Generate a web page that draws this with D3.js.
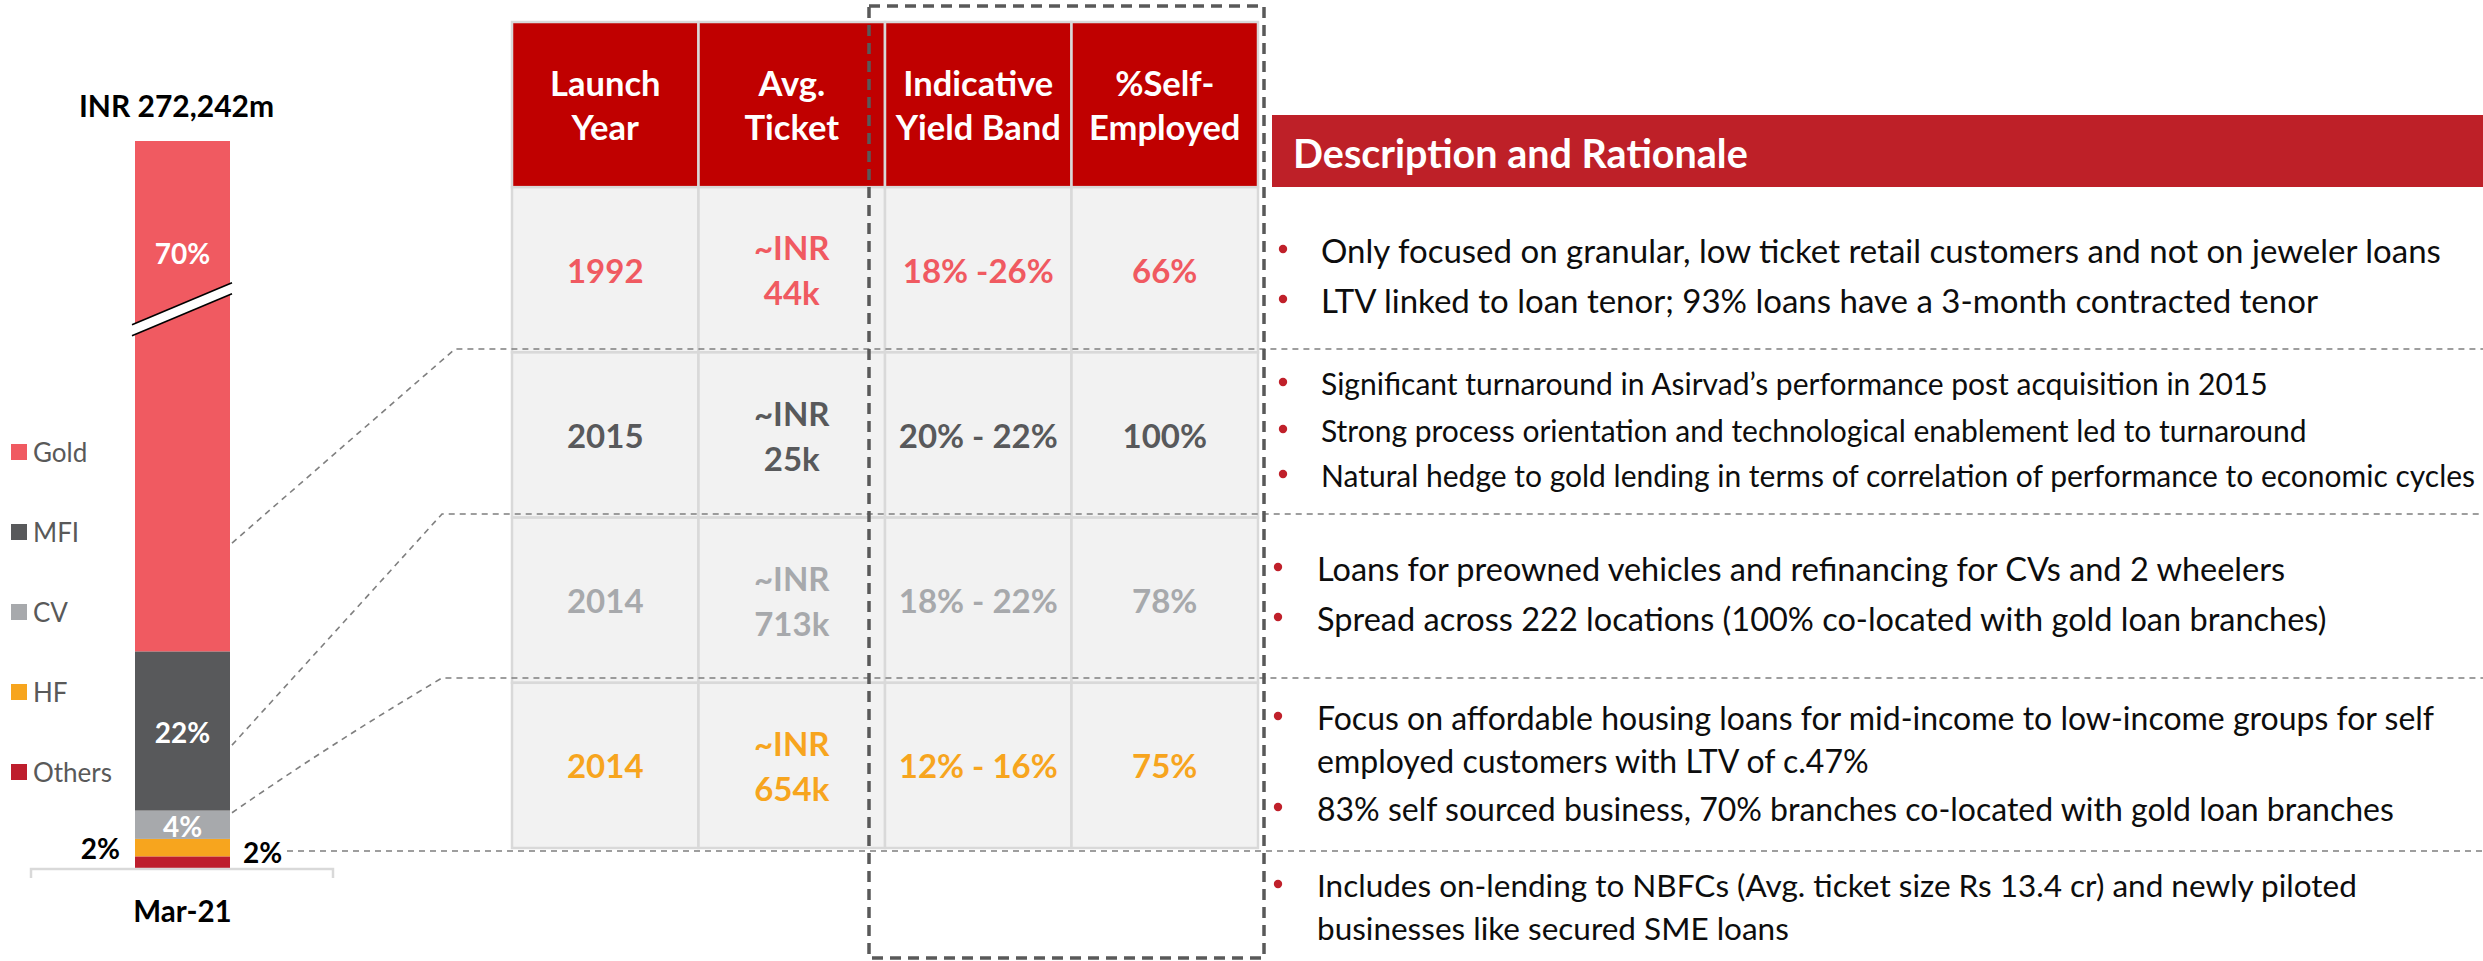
<!DOCTYPE html>
<html><head><meta charset="utf-8">
<script src="https://cdn.jsdelivr.net/npm/d3@7"></script>
<style>
html,body{margin:0;padding:0;background:#fff;}
svg{display:block;font-family:Lato, "Open Sans", sans-serif;}
</style></head>
<body>
<svg id="chart" width="2483" height="961"></svg>
<script>
// ---------- data ----------
const categories = ["Mar-21"];
const totalLabel = "INR 272,242m";
const segments = ["Gold", "MFI", "CV", "HF", "Others"];
const shares = [70.2, 21.9, 3.9, 2.4, 1.6];           // % of AUM
const segmentColors = ["#F05A61", "#58595B", "#A7A9AC", "#F7A51E", "#BE1E2D"];

const tableHeaders = [["Launch", "Year"], ["Avg.", "Ticket"], ["Indicative", "Yield Band"], ["%Self-", "Employed"]];
const launchYears = ["1992", "2015", "2014", "2014"];
const avgTickets = [["~INR", "44k"], ["~INR", "25k"], ["~INR", "713k"], ["~INR", "654k"]];
const yieldBands = ["18% -26%", "20% - 22%", "18% - 22%", "12% - 16%"];
const selfEmployed = ["66%", "100%", "78%", "75%"];

const descTitle = "Description and Rationale";
const descriptions = [
  [["Only focused on granular, low ticket retail customers and not on jeweler loans"],
   ["LTV linked to loan tenor; 93% loans have a 3-month contracted tenor"]],
  [["Significant turnaround in Asirvad\u2019s performance post acquisition in 2015"],
   ["Strong process orientation and technological enablement led to turnaround"],
   ["Natural hedge to gold lending in terms of correlation of performance to economic cycles"]],
  [["Loans for preowned vehicles and refinancing for CVs and 2 wheelers"],
   ["Spread across 222 locations (100% co-located with gold loan branches)"]],
  [["Focus on affordable housing loans for mid-income to low-income groups for self", "employed customers with LTV of c.47%"],
   ["83% self sourced business, 70% branches co-located with gold loan branches"]],
  [["Includes on-lending to NBFCs (Avg. ticket size Rs 13.4 cr) and newly piloted", "businesses like secured SME loans"]]
];

// ---------- setup ----------
const svg = d3.select("#chart");
const W = 2483, H = 961;

// ---------- stacked bar ----------
const x = d3.scaleBand().domain(categories).range([135, 230]).padding(0);
const y = d3.scaleLinear().domain([0, 100]).range([868, 141]);

const row = {cat: categories[0]};
segments.forEach((s, i) => row[s] = shares[i]);
const stackOrder = segments.slice().reverse(); // Others at bottom
const stacked = d3.stack().keys(stackOrder)([row]);
const colorOf = d3.scaleOrdinal().domain(segments).range(segmentColors);

const barG = svg.append("g");
barG.selectAll("rect").data(stacked).join("rect")
  .attr("x", x(categories[0]))
  .attr("width", x.bandwidth())
  .attr("y", d => y(d[0][1]))
  .attr("height", d => y(d[0][0]) - y(d[0][1]))
  .attr("fill", d => colorOf(d.key));

// axis break on gold segment
const bx0 = x(categories[0]) - 3, bx1 = x(categories[0]) + x.bandwidth() + 2;
const bTop = y(80.5), slope = 42;
barG.append("path")
  .attr("d", `M${bx0},${bTop + slope} L${bx1},${bTop} L${bx1},${bTop + 11} L${bx0},${bTop + slope + 11} Z`)
  .attr("fill", "#fff");
[0, 11].forEach(o => barG.append("line")
  .attr("x1", bx0).attr("y1", bTop + slope + o).attr("x2", bx1).attr("y2", bTop + o)
  .attr("stroke", "#000").attr("stroke-width", 1.6));

// labels
const fmt = v => d3.format(".0%")(v / 100);
const cx = x(categories[0]) + x.bandwidth() / 2;
stacked.forEach(s => {
  const k = s.key, v = s[0][1] - s[0][0], mid = y((s[0][0] + s[0][1]) / 2);
  const t = svg.append("text").text(fmt(v)).attr("font-weight", 700).attr("font-size", 28)
    .attr("dominant-baseline", "central");
  if (k === "Gold") t.attr("x", cx).attr("y", y(84.6)).attr("text-anchor", "middle").attr("fill", "#fff");
  else if (k === "MFI" || k === "CV") t.attr("x", cx).attr("y", mid + 1).attr("text-anchor", "middle").attr("fill", "#fff");
  else if (k === "HF") t.attr("x", 120).attr("y", mid).attr("text-anchor", "end").attr("fill", "#000");
  else t.attr("x", 243).attr("y", mid - 10).attr("text-anchor", "start").attr("fill", "#000");
});

svg.append("text").text(totalLabel).attr("x", cx - 6).attr("y", 105)
  .attr("text-anchor", "middle").attr("dominant-baseline", "central")
  .attr("font-weight", 700).attr("font-size", 30).attr("fill", "#000");

// category axis
const axG = svg.append("g");
axG.append("path").attr("d", "M31,878 V869 H333 V878").attr("fill", "none")
  .attr("stroke", "#D9D9D9").attr("stroke-width", 2.5);
axG.append("text").text(categories[0]).attr("x", cx).attr("y", 910)
  .attr("text-anchor", "middle").attr("dominant-baseline", "central")
  .attr("font-weight", 700).attr("font-size", 29.5).attr("fill", "#000");

// legend
const lg = svg.append("g");
segments.forEach((s, i) => {
  const ly = 452 + i * 80;
  lg.append("rect").attr("x", 11).attr("y", ly - 8).attr("width", 16).attr("height", 16).attr("fill", segmentColors[i]);
  lg.append("text").text(s).attr("x", 33).attr("y", ly).attr("dominant-baseline", "central")
    .attr("font-size", 26).attr("fill", "#595959");
});

// ---------- table ----------
const colX = d3.scaleBand().domain(d3.range(4)).range([512, 1258]);
const rowY = d3.scaleBand().domain(["h", 0, 1, 2, 3]).range([22, 848]);
const tg = svg.append("g");
tableHeaders.forEach((h, c) => {
  tg.append("rect").attr("x", colX(c)).attr("y", rowY("h")).attr("width", colX.bandwidth()).attr("height", rowY.bandwidth())
    .attr("fill", "#C00000").attr("stroke", "#D9D9D9").attr("stroke-width", 2.5);
  h.forEach((ln, j) => tg.append("text").text(ln)
    .attr("x", colX(c) + colX.bandwidth() / 2).attr("y", rowY("h") + rowY.bandwidth() / 2 + (j - 0.5) * 44)
    .attr("text-anchor", "middle").attr("dominant-baseline", "central")
    .attr("font-weight", 700).attr("font-size", 34.5).attr("fill", "#fff"));
});
const cols = [launchYears, avgTickets, yieldBands, selfEmployed];
for (let r = 0; r < 4; r++) {
  for (let c = 0; c < 4; c++) {
    tg.append("rect").attr("x", colX(c)).attr("y", rowY(r)).attr("width", colX.bandwidth()).attr("height", rowY.bandwidth())
      .attr("fill", "#F2F2F2").attr("stroke", "#D9D9D9").attr("stroke-width", 2.5);
    const v = cols[c][r];
    const lines = Array.isArray(v) ? v : [v];
    lines.forEach((ln, j) => tg.append("text").text(ln)
      .attr("x", colX(c) + colX.bandwidth() / 2)
      .attr("y", rowY(r) + rowY.bandwidth() / 2 + (j - (lines.length - 1) / 2) * 45)
      .attr("text-anchor", "middle").attr("dominant-baseline", "central")
      .attr("font-weight", 700).attr("font-size", 33).attr("fill", segmentColors[r]));
  }
}

// ---------- connectors & separators ----------
const dash = {stroke: "#7F7F7F", "stroke-width": 1.6, "stroke-dasharray": "6,5", fill: "none"};
function dashed(sel) { Object.entries(dash).forEach(([k, v]) => sel.attr(k, v)); return sel; }
const barR = x(categories[0]) + x.bandwidth() + 2;
const sepY = [349, 514, 678, 851];
dashed(svg.append("path").attr("d", `M${barR},${y(44.7)} L455,${sepY[0]} H${W}`));
dashed(svg.append("path").attr("d", `M${barR},${y(16.9)} L442,${sepY[1]} H${W}`));
dashed(svg.append("path").attr("d", `M${barR},${y(7.6)} Q330,${y(17)} 442,${sepY[2]} H${W}`));
dashed(svg.append("path").attr("d", `M287,${sepY[3]} H${W}`));

// ---------- description ----------
svg.append("rect").attr("x", 1272).attr("y", 115).attr("width", W - 1272).attr("height", 72).attr("fill", "#BE2028");
svg.append("text").text(descTitle).attr("x", 1293).attr("y", 152).attr("dominant-baseline", "central")
  .attr("font-weight", 700).attr("font-size", 39.5).attr("fill", "#fff");

const lineStarts = [[250, 300], [383, 430, 475], [568, 618], [717, 808], [885]];
const indents = [[1283, 1321], [1283, 1321], [1278, 1317], [1278, 1317], [1278, 1317]];
const secFont = [33, 30, 32.5, 32, 31.5];
const dg = svg.append("g");
descriptions.forEach((sec, si) => {
  sec.forEach((bul, bi) => {
    const y0 = lineStarts[si][bi];
    dg.append("circle").attr("cx", indents[si][0]).attr("cy", y0 - 1).attr("r", 4.2).attr("fill", "#C0202A");
    bul.forEach((ln, li) => dg.append("text").text(ln)
      .attr("x", indents[si][1]).attr("y", y0 + li * 43).attr("dominant-baseline", "central")
      .attr("font-size", secFont[si]).attr("fill", "#0D0D0D"));
  });
});

// ---------- highlight box ----------
svg.append("rect").attr("x", 869).attr("y", 6).attr("width", 1264 - 869).attr("height", 958 - 6)
  .attr("fill", "none").attr("stroke", "#595959").attr("stroke-width", 3.5).attr("stroke-dasharray", "11,7");
</script>
</body></html>
